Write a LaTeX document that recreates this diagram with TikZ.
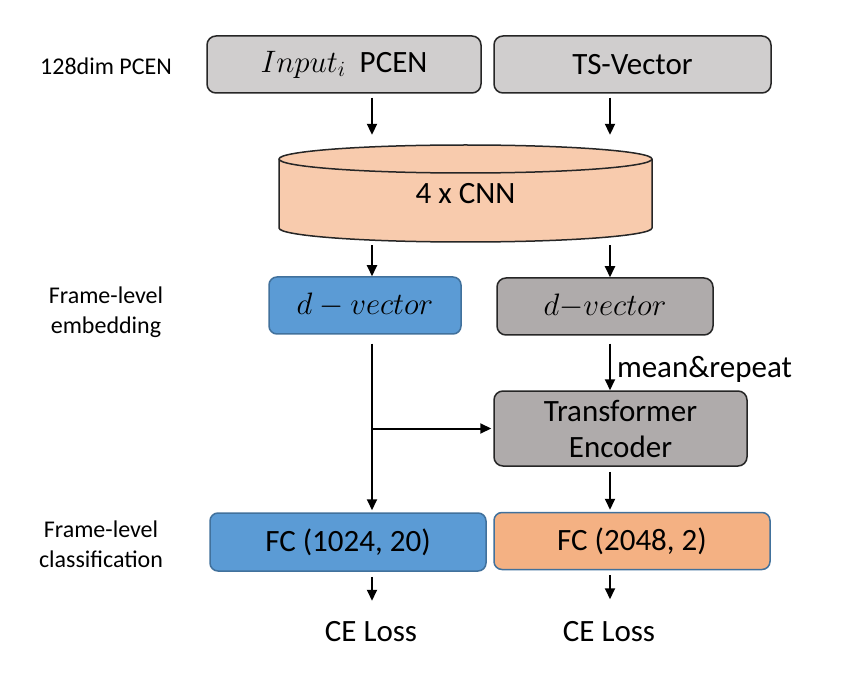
\RequirePackage{fix-cm}
\documentclass[tikz,border=0pt]{standalone}
\usepackage{fontspec}
\setmainfont{Carlito}
\usetikzlibrary{arrows.meta,calc}
\definecolor{topgray}{HTML}{D0CECE}
\definecolor{midgray}{HTML}{AFABAB}
\definecolor{peach}{HTML}{F8CBAD}
\definecolor{bluebox}{HTML}{5B9BD5}
\definecolor{blueline}{HTML}{41719C}
\definecolor{orangebox}{HTML}{F4B183}
\definecolor{darkline}{HTML}{262626}
\begin{document}
\begin{tikzpicture}[x=1pt,y=-1pt,
  box/.style={rectangle, rounded corners=9pt, line width=1.5pt, inner sep=0pt,
    font=\fontsize{31}{36}\selectfont, align=center},
  graybox/.style={box, fill=topgray, draw=darkline},
  darkbox/.style={box, fill=midgray, draw=darkline},
  bluestyle/.style={box, fill=bluebox, draw=blueline},
  orangestyle/.style={box, fill=orangebox, draw=blueline},
  txt/.style={font=\fontsize{31}{36}\selectfont, inner sep=0pt},
  side/.style={font=\fontsize{24}{30}\selectfont, align=center, inner sep=0pt},
  arr/.style={line width=2pt, -{Triangle[length=11pt,width=10pt]}}]
\useasboundingbox (0,0) rectangle (863,695);
\fill[white] (0,0) rectangle (863,695);

% column positions
\coordinate (colL) at (372,0);
\coordinate (colR) at (610,0);

% side labels
\node[side] (lab1) at (106,66) {128dim PCEN};
\node[side] (lab2) at (106,312) {Frame-level\\embedding};
\node[side] (lab3) at (101,544) {Frame-level\\classification};

% top boxes
\node[graybox, minimum width=274pt, minimum height=57pt] (in1) at (344,64.5) {$Input_i$\ \ PCEN};
\node[graybox, minimum width=277pt, minimum height=57pt] (ts) at (632.5,64.5) {TS-Vector};

% cylinder
\fill[peach] (279,159) -- (279,228)
  arc[start angle=180, end angle=360, x radius=186.5pt, y radius=14pt]
  -- (652,159)
  arc[start angle=0, end angle=180, x radius=186.5pt, y radius=14pt] -- cycle;
\draw[line width=1.5pt, darkline] (279,159) -- (279,228)
  arc[start angle=180, end angle=360, x radius=186.5pt, y radius=14pt]
  -- (652,159)
  arc[start angle=0, end angle=180, x radius=186.5pt, y radius=14pt];
\draw[line width=1.5pt, darkline] (279,159)
  arc[start angle=180, end angle=360, x radius=186.5pt, y radius=14pt];
\node[txt, minimum width=373pt, minimum height=97pt] (cnn) at (465.5,193.5) {\raisebox{-10pt}{4 x CNN}};

% embeddings
\node[bluestyle, rounded corners=8pt, minimum width=192pt, minimum height=57pt] (dv1) at (365,305.5) {$d - vector$};
\node[darkbox, minimum width=216pt, minimum height=57pt] (dv2) at (605,306.5) {$d{-}vector$};

% transformer
\node[darkbox, minimum width=253pt, minimum height=75pt] (tr) at (620.5,428.5) {Transformer\\Encoder};

% classifiers
\node[bluestyle, rounded corners=8pt, minimum width=276pt, minimum height=58pt] (fc1) at (348,542) {FC (1024, 20)};
\node[orangestyle, rounded corners=8pt, minimum width=276pt, minimum height=57pt] (fc2) at (632,541) {FC (2048, 2)};

% losses
\node[txt] (ce1) at (371,632) {CE Loss};
\node[txt] (ce2) at (609,632) {CE Loss};

% connectors
\draw[arr] ([yshift=-4pt]in1.south -| colL) -- ([yshift=10pt]cnn.north -| colL);
\draw[arr] ([yshift=-4pt]ts.south -| colR) -- ([yshift=10pt]cnn.north -| colR);
\draw[arr] ([yshift=-3pt]cnn.south -| colL) -- (dv1.north -| colL);
\draw[arr] ([yshift=-3pt]cnn.south -| colR) -- (dv2.north -| colR);
\draw[arr] ([yshift=-9pt]dv1.south -| colL) -- ([yshift=2pt]fc1.north -| colL);
\coordinate (br) at (colL |- tr.west);
\draw[arr] (br) -- ([xshift=-2pt]tr.west);
\draw[arr] ([yshift=-8pt]dv2.south -| colR) -- node[right, xshift=6pt, yshift=-2pt, txt] (mr) {mean\&repeat} (tr.north -| colR);
\draw[arr] ([yshift=-5pt]tr.south -| colR) -- ([yshift=2pt]fc2.north -| colR);
\draw[arr] ([yshift=-5pt]fc1.south -| colL) -- ([yshift=-29pt]fc1.south -| colL);
\draw[arr] ([yshift=-5pt]fc2.south -| colR) -- ([yshift=-29pt]fc2.south -| colR);
\end{tikzpicture}
\end{document}
